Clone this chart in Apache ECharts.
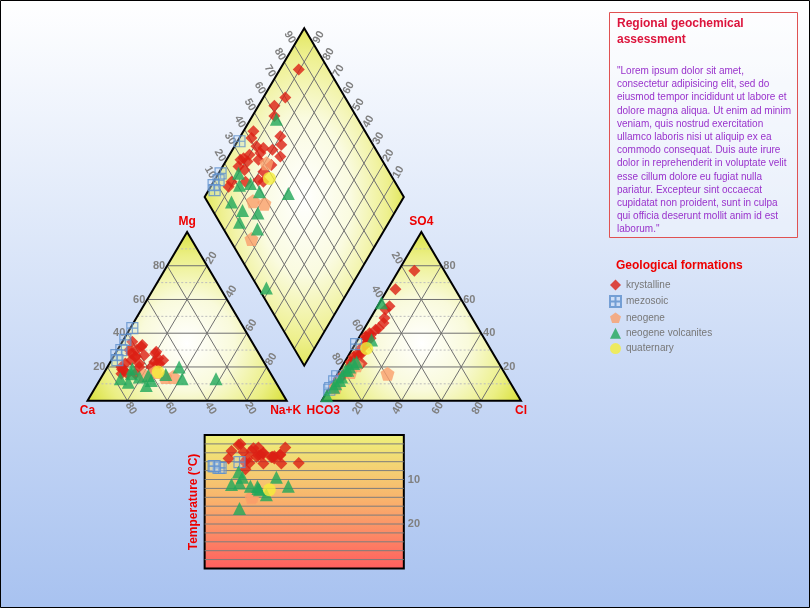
<!DOCTYPE html>
<html><head><meta charset="utf-8">
<script src="https://cdn.jsdelivr.net/npm/echarts@6/dist/echarts.min.js"></script>
<style>html,body{margin:0;padding:0;background:#fff}#c{width:810px;height:608px}</style>
</head><body><div id="c"></div>
<script>
// ---- DATA ----  each sample: [Na+K %, Mg %, HCO3 %, Cl %, temperature °C]
// (Ca = 100 - Na+K - Mg ; SO4 = 100 - HCO3 - Cl)
const formations = ['krystalline', 'mezosoic', 'neogene', 'neogene volcanites', 'quaternary'];
const krystalline = [
  [9.5, 30, 15, 8, 6.3], [11, 33, 30, 4, 2.8], [8, 28, 38, 6, 5.3], [11, 26, 41, 5, 4.8],
  [5, 35, 56, 4, 3.0], [6, 30, 59, 3, 3.6], [20, 28, 44, 7, 4.5], [23, 25, 46, 8, 6.4],
  [11, 32, 59, 4, 4.9], [15, 27, 56, 5, 4.2], [20, 29, 52, 6, 4.9], [15, 22, 59, 4, 4.5],
  [10, 24, 65, 4, 6.3], [8, 22, 69, 9, 3.8], [7, 20, 71, 3, 2.0], [11, 26, 68, 5, 5.3],
  [16, 20, 62, 5, 2.8], [26, 24, 50, 7, 4.3], [24, 22, 57, 6, 5.0], [8, 18.6, 74, 3, 2.2],
  [12, 16, 72, 4, 6.0], [22, 23, 63, 5, 6.4], [22, 20, 68, 4, 4.6], [25, 22, 66, 6, 4.0],
  [16, 16, 75, 4, 7.7], [9, 18, 82, 3, 3.6], [9, 16, 85, 2, 5.3]
];
const mezosoic = [
  [1, 43, 66, 0.5, 6.1], [1, 36, 85, 0.5, 7.4], [2, 30, 88, 0.5, 7.4], [1, 27, 92, 0.5, 7.0], [3, 24, 93, 0.5, 7.0]
];
const neogene = [
  [21, 15, 59, 25, null], [25.5, 17, 77, 6, 13.7], [32, 14, 72, 7, null], [36, 14, 89, 3, 14.0]
];
const neogeneVolcanites = [
  [13, 19, 41, 1, 9.5], [10, 13, 76, 4, 8.3], [14, 16, 79, 3, 10.8], [19, 14, 73, 5, 11.5],
  [26, 12, 71, 6, 12.3], [41, 13, 57, 7, 11.5], [15, 11, 88, 2, 11.1], [23, 15, 85, 3, 9.5],
  [31.5, 15.6, 78, 4, 12.0], [25, 9, 90, 2, 16.5], [36, 20, 83, 3, 11.6], [58, 13, 96, 1, 13.4]
];
const quaternary = [
  [27, 17, 62, 7, 12.3]
];
const samplesByFormation = [krystalline, mezosoic, neogene, neogeneVolcanites, quaternary];
const triangleTicks = [20, 40, 60, 80];
const triangleMinorTicks = [10, 30, 50, 70, 90];
const diamondTicks = [10, 20, 30, 40, 50, 60, 70, 80, 90];
const temperatureTicks = [10, 20];
const temperatureLines = [2, 4, 6, 8, 10, 12, 14, 16, 18, 20, 22, 24, 26, 28];
const cationNames = ['Ca', 'Mg', 'Na+K'];
const anionNames = ['HCO3', 'SO4', 'Cl'];
const loremLines = [
  '"Lorem ipsum dolor sit amet,', 'consectetur adipisicing elit, sed do', 'eiusmod tempor incididunt ut labore et',
  'dolore magna aliqua. Ut enim ad minim', 'veniam, quis nostrud exercitation', 'ullamco laboris nisi ut aliquip ex ea',
  'commodo consequat. Duis aute irure', 'dolor in reprehenderit in voluptate velit', 'esse cillum dolore eu fugiat nulla',
  'pariatur. Excepteur sint occaecat', 'cupidatat non proident, sunt in culpa', 'qui officia deserunt mollit anim id est',
  'laborum."'
];

// ---- GEOMETRY (Piper units: triangle side = 100) ----
const H = 86.6025;          // triangle height
const GAP = 17.6;           // gap between the two triangles
const LIFT = 18;            // height of the diamond's lower vertex
const XC = 100 + GAP / 2;   // diamond centre line
const cat = (na, mg) => [na + mg / 2, H * mg / 100];
const an = (cl, so4) => [100 + GAP + cl + so4 / 2, H * so4 / 100];
const dia = (na, hco3) => [XC + 50 * (na - hco3) / 100, LIFT + 2 * H - H * (na + hco3) / 100];
const X_MIN = -43.93, X_MAX = 362.70, Y_MIN = -106.42, Y_MAX = 205.70;

const FONT = '"Liberation Sans", Arial, sans-serif';
const LABEL_GRAY = '#808080';
const RED = '#ee0000';

const symbolStyles = [
  {symbol: 'diamond', symbolSize: 12, itemStyle: {color: '#dc1f14'}},
  {symbol: 'path://M0,0L10,0L10,10L0,10Z M5,0L5,10 M0,5L10,5', symbolSize: 11,
   itemStyle: {color: 'rgba(190,215,245,0.35)', borderColor: '#5d8fcc', borderWidth: 1.2}},
  {symbol: 'path://M50,0L97.55,34.55L79.39,90.45L20.61,90.45L2.45,34.55Z', symbolSize: 14, itemStyle: {color: '#fa9f6a'}},
  {symbol: 'triangle', symbolSize: 13, itemStyle: {color: '#1fa85a'}},
  {symbol: 'circle', symbolSize: 13, itemStyle: {color: '#f5ee3a'}}
];

function frameItem(params, api) {
  const P = p => api.coord(p);
  const els = [];
  const gridStyle = {stroke: '#707070', lineWidth: 1};
  const minorStyle = {stroke: '#bdbdbd', lineWidth: 1, lineDash: [2, 2]};
  const line = (a, b, style) => {
    const A = P(a), B = P(b);
    els.push({type: 'line', shape: {x1: A[0], y1: A[1], x2: B[0], y2: B[1]}, style});
  };
  const triStops = [
    {offset: 0, color: '#ffffff'}, {offset: 0.4, color: '#f9fadb'},
    {offset: 0.75, color: '#ebef84'}, {offset: 1, color: '#d6de30'}
  ];
  const diaStops = [
    {offset: 0, color: '#ffffff'}, {offset: 0.4, color: '#fafbe0'},
    {offset: 0.72, color: '#eef090'}, {offset: 1, color: '#d6de30'}
  ];
  const triFill = {type: 'radial', x: 0.5, y: 0.66, r: 0.7, colorStops: triStops};
  const catV = [cat(0, 0), cat(100, 0), cat(0, 100)];
  const anV = [an(0, 0), an(100, 0), an(0, 100)];
  const diaV = [dia(0, 0), dia(100, 0), dia(100, 100), dia(0, 100)];
  els.push({type: 'polygon', shape: {points: catV.map(P)}, style: {fill: triFill}});
  els.push({type: 'polygon', shape: {points: anV.map(P)}, style: {fill: triFill}});
  // diamond fill: circular gradient scaled into an ellipse
  const dp = diaV.map(P);
  const cx = (dp[1][0] + dp[3][0]) / 2, cy = (dp[0][1] + dp[2][1]) / 2;
  const k = (dp[2][1] - dp[0][1]) / (dp[1][0] - dp[3][0]);
  els.push({type: 'polygon', x: cx, y: cy, scaleY: k,
    shape: {points: dp.map(p => [p[0] - cx, (p[1] - cy) / k])},
    style: {fill: {type: 'radial', x: 0.5, y: 0.5, r: 0.58, colorStops: diaStops}}});
  // minor dotted lines
  triangleMinorTicks.forEach(t => {
    line(cat(0, t), cat(100 - t, t), minorStyle);
    line(an(0, t), an(100 - t, t), minorStyle);
  });
  // major grid lines
  triangleTicks.forEach(t => {
    line(cat(0, t), cat(100 - t, t), gridStyle);
    line(cat(t, 0), cat(t, 100 - t), gridStyle);
    line(cat(100 - t, 0), cat(0, 100 - t), gridStyle);
    line(an(0, t), an(100 - t, t), gridStyle);
    line(an(t, 0), an(t, 100 - t), gridStyle);
    line(an(100 - t, 0), an(0, 100 - t), gridStyle);
  });
  diamondTicks.forEach(t => {
    line(dia(t, 0), dia(t, 100), gridStyle);
    line(dia(0, t), dia(100, t), gridStyle);
  });
  // outlines
  const outline = {fill: null, stroke: '#000', lineWidth: 2, lineJoin: 'miter'};
  els.push({type: 'polygon', shape: {points: catV.map(P)}, style: outline});
  els.push({type: 'polygon', shape: {points: anV.map(P)}, style: outline});
  els.push({type: 'polygon', shape: {points: dp}, style: outline});
  // tick labels
  const tickFont = 'bold 11px ' + FONT;
  const txt = (p, dx, dy, text, rot, align, font, color) => els.push({
    type: 'text', x: p[0] + dx, y: p[1] + dy, rotation: rot || 0,
    style: {text: String(text), fill: color || LABEL_GRAY, font: font || tickFont,
            align: align || 'center', verticalAlign: 'middle'}
  });
  const R = Math.PI / 3, d = 9;
  triangleTicks.forEach(t => {
    txt(P(cat(0, t)), -2, 0, t, 0, 'right');                               // Mg
    txt(P(cat(t, 100 - t)), d * 0.5, -d * 0.866, t, R);                    // Na+K
    txt(P(cat(100 - t, 0)), 3.5, 7.5, t, -R);                              // Ca
    txt(P(an(100 - t, t)), 2, 0, t, 0, 'left');                            // SO4
    txt(P(an(0, 100 - t)), -d * 0.5, -d * 0.866, t, -R);                   // HCO3
    txt(P(an(t, 0)), -3.5, 7.5, t, R);                                     // Cl
  });
  diamondTicks.forEach(t => {
    txt(P(dia(0, 100 - t)), -d * 0.5, -d * 0.866, t, -R);                  // SO4+Cl
    txt(P(dia(100 - t, 0)), d * 0.5, -d * 0.866, t, R);                    // Ca+Mg
  });
  // corner names
  const cf = 'bold 12px ' + FONT;
  txt(P(catV[0]), 0, 10, cationNames[0], 0, 'center', cf, RED);
  txt(P(catV[2]), 0, -10, cationNames[1], 0, 'center', cf, RED);
  txt(P(catV[1]), -1, 10, cationNames[2], 0, 'center', cf, RED);
  txt(P(anV[0]), 1.5, 10, anionNames[0], 0, 'center', cf, RED);
  txt(P(anV[2]), 0, -10, anionNames[1], 0, 'center', cf, RED);
  txt(P(anV[1]), 0, 10, anionNames[2], 0, 'center', cf, RED);
  return {type: 'group', children: els};
}

// horizontal lines of the temperature panel
function tempLinesItem(params, api) {
  const els = temperatureLines.map(t => {
    const A = api.coord([XC - 50, t]), B = api.coord([XC + 50, t]);
    return {type: 'line', shape: {x1: A[0], y1: A[1], x2: B[0], y2: B[1]}, style: {stroke: '#7c7c7c', lineWidth: 1}};
  });
  return {type: 'group', children: els};
}

const series = [
  {type: 'custom', name: 'frame', silent: true, z: 1, xAxisIndex: 0, yAxisIndex: 0,
   renderItem: frameItem, data: [[0, 0]], clip: false, tooltip: {show: false}},
  {type: 'custom', name: 'tlines', silent: true, z: 1, xAxisIndex: 1, yAxisIndex: 1,
   renderItem: tempLinesItem, data: [[XC, 10]], clip: false, tooltip: {show: false}}
];
formations.forEach((name, i) => {
  const s = samplesByFormation[i];
  const pts = [];
  s.forEach(r => {
    pts.push(cat(r[0], r[1]));
    pts.push(an(r[3], 100 - r[2] - r[3]));
    pts.push(dia(r[0], r[2]));
  });
  series.push(Object.assign({type: 'scatter', name, xAxisIndex: 0, yAxisIndex: 0, z: 3, data: pts}, symbolStyles[i]));
  series.push(Object.assign({type: 'scatter', name, xAxisIndex: 1, yAxisIndex: 1, z: 3,
    data: s.filter(r => r[4] != null).map(r => [dia(r[0], r[2])[0], r[4]])}, symbolStyles[i]));
});

const option = {
  animation: false,
  backgroundColor: {type: 'linear', x: 0, y: 0, x2: 0, y2: 1,
    colorStops: [{offset: 0, color: '#ffffff'}, {offset: 1, color: '#a8c2f0'}]},
  grid: [
    {left: 0, right: 0, top: 0, bottom: 0},
    {left: (XC - 50 - X_MIN) / (X_MAX - X_MIN) * 810, width: 100 / (X_MAX - X_MIN) * 810, top: 435, height: 133.5,
     show: true, borderColor: '#000', borderWidth: 2,
     backgroundColor: {type: 'linear', x: 0, y: 0, x2: 0, y2: 1,
       colorStops: [{offset: 0, color: '#eef27a'}, {offset: 0.5, color: '#f9b16c'}, {offset: 1, color: '#ff5e5e'}]}}
  ],
  xAxis: [
    {type: 'value', gridIndex: 0, min: X_MIN, max: X_MAX, show: false},
    {type: 'value', gridIndex: 1, min: XC - 50, max: XC + 50, show: false}
  ],
  yAxis: [
    {type: 'value', gridIndex: 0, min: Y_MIN, max: Y_MAX, show: false},
    {type: 'value', gridIndex: 1, min: 0, max: 30, interval: 10, inverse: true, position: 'right',
     axisLine: {show: false}, axisTick: {show: false}, splitLine: {show: false},
     axisLabel: {margin: 4, color: LABEL_GRAY, fontWeight: 'bold', fontSize: 11, fontFamily: FONT,
       formatter: v => temperatureTicks.indexOf(v) >= 0 ? String(v) : ''}}
  ],
  legend: {
    data: formations, orient: 'vertical', left: 609, top: 279.5, padding: 0, itemWidth: 11, itemHeight: 11, itemGap: 4.4,
    selectedMode: false, textStyle: {color: '#777', fontSize: 10, fontFamily: FONT, lineHeight: 11}
  },
  graphic: [
    {type: 'rect', shape: {x: 609.5, y: 12.5, width: 188, height: 225},
     style: {fill: 'rgba(255,255,255,0.3)', stroke: '#e05252', lineWidth: 1}},
    {type: 'text', x: 617, y: 16, style: {text: 'Regional geochemical\nassessment', fill: '#dc143c',
      font: 'bold 12px ' + FONT, lineHeight: 15.7}},
    {type: 'text', x: 617, y: 64.6, style: {text: loremLines.join('\n'), fill: '#9932cc',
      font: '10px ' + FONT, lineHeight: 13.2}},
    {type: 'text', x: 616, y: 266, style: {text: 'Geological formations', fill: RED,
      font: 'bold 12px ' + FONT, verticalAlign: 'middle'}},
    {type: 'text', x: 194, y: 502, rotation: Math.PI / 2, style: {text: 'Temperature (°C)', fill: RED,
      font: 'bold 12px ' + FONT, align: 'center', verticalAlign: 'middle'}},
    {type: 'rect', shape: {x: 0.5, y: 0.5, width: 809, height: 607}, z: 100,
     style: {fill: null, stroke: '#000', lineWidth: 1}}
  ],
  series
};
const chart = echarts.init(document.getElementById('c'));
chart.setOption(option);
</script></body></html>
